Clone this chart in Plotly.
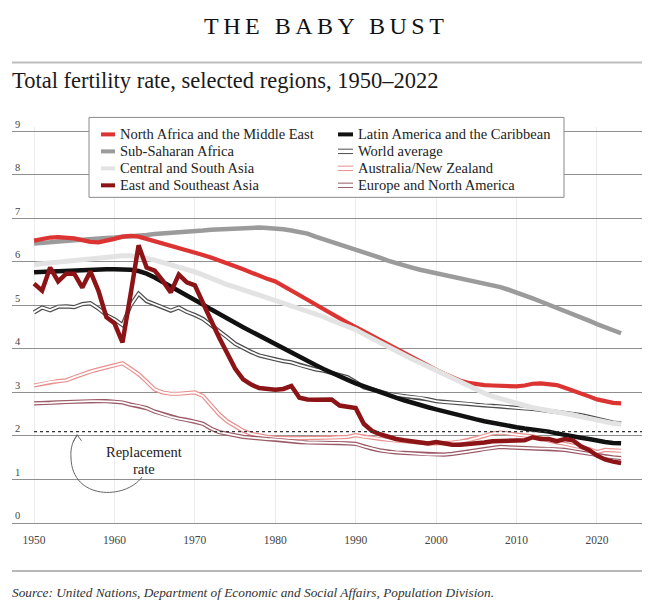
import plotly.graph_objects as go

# Total fertility rate by region (1950-2023)
years = list(range(1950, 2024))

north_africa_me = [
    6.49, 6.53, 6.56, 6.57, 6.56, 6.54, 6.50, 6.46, 6.45, 6.48,
    6.53, 6.58, 6.60, 6.58, 6.53, 6.48, 6.43, 6.38, 6.33, 6.27,
    6.22, 6.16, 6.10, 6.04, 5.97, 5.90, 5.83, 5.75, 5.67, 5.61,
    5.55, 5.45, 5.35, 5.24, 5.13, 5.02, 4.91, 4.80, 4.70, 4.60,
    4.50, 4.40, 4.30, 4.20, 4.10, 4.01, 3.91, 3.81, 3.71, 3.61,
    3.52, 3.43, 3.34, 3.27, 3.22, 3.19, 3.17, 3.16, 3.15, 3.15,
    3.14, 3.16, 3.20, 3.21, 3.20, 3.17, 3.11, 3.05, 2.98, 2.91,
    2.84, 2.79, 2.76, 2.75,
]
sub_saharan = [
    6.42, 6.44, 6.45, 6.47, 6.48, 6.50, 6.51, 6.53, 6.54, 6.55,
    6.56, 6.57, 6.58, 6.60, 6.62, 6.64, 6.65, 6.67, 6.68, 6.70,
    6.71, 6.72, 6.74, 6.75, 6.76, 6.77, 6.78, 6.79, 6.79, 6.78,
    6.77, 6.75, 6.72, 6.69, 6.65, 6.58, 6.52, 6.46, 6.41, 6.36,
    6.30, 6.24, 6.17, 6.10, 6.03, 5.97, 5.92, 5.87, 5.82, 5.78,
    5.74, 5.70, 5.67, 5.63, 5.59, 5.55, 5.51, 5.47, 5.42, 5.36,
    5.30, 5.23, 5.16, 5.09, 5.02, 4.95, 4.87, 4.80, 4.72, 4.65,
    4.57, 4.50, 4.43, 4.36,
]
central_south_asia = [
    5.94, 5.96, 5.98, 6.00, 6.02, 6.04, 6.06, 6.08, 6.10, 6.11,
    6.13, 6.14, 6.14, 6.12, 6.08, 6.04, 5.99, 5.94, 5.89, 5.83,
    5.77, 5.70, 5.62, 5.55, 5.48, 5.42, 5.36, 5.30, 5.24, 5.18,
    5.12, 5.06, 5.00, 4.94, 4.88, 4.82, 4.74, 4.66, 4.59, 4.52,
    4.44, 4.34, 4.24, 4.14, 4.04, 3.95, 3.86, 3.77, 3.68, 3.59,
    3.51, 3.42, 3.33, 3.24, 3.15, 3.06, 2.98, 2.91, 2.85, 2.80,
    2.75, 2.70, 2.65, 2.61, 2.58, 2.55, 2.52, 2.48, 2.45, 2.41,
    2.35, 2.31, 2.29, 2.27,
]
east_se_asia = [
    5.50, 5.34, 5.87, 5.55, 5.73, 5.73, 5.41, 5.78, 5.34, 4.73,
    4.59, 4.15, 5.25, 6.38, 5.87, 5.80, 5.57, 5.30, 5.71, 5.53,
    5.46, 5.04, 4.66, 4.27, 3.92, 3.55, 3.30, 3.18, 3.10, 3.08,
    3.06, 3.08, 3.15, 2.88, 2.84, 2.83, 2.84, 2.84, 2.70, 2.67,
    2.64, 2.28, 2.12, 2.04, 1.98, 1.93, 1.90, 1.87, 1.84, 1.83,
    1.86, 1.83, 1.80, 1.80, 1.81, 1.83, 1.85, 1.88, 1.89, 1.89,
    1.89, 1.90, 1.97, 1.93, 1.93, 1.88, 1.93, 1.90, 1.76, 1.68,
    1.55, 1.46, 1.41, 1.38,
]
latin_america = [
    5.76, 5.77, 5.78, 5.79, 5.80, 5.81, 5.82, 5.82, 5.83, 5.83,
    5.83, 5.83, 5.82, 5.79, 5.73, 5.64, 5.54, 5.43, 5.33, 5.23,
    5.13, 5.02, 4.91, 4.80, 4.70, 4.60, 4.50, 4.40, 4.31, 4.21,
    4.11, 4.01, 3.92, 3.83, 3.73, 3.63, 3.54, 3.45, 3.37, 3.29,
    3.21, 3.14, 3.07, 3.00, 2.94, 2.88, 2.82, 2.76, 2.71, 2.66,
    2.61, 2.56, 2.51, 2.46, 2.42, 2.38, 2.34, 2.30, 2.26, 2.23,
    2.20, 2.17, 2.15, 2.12, 2.10, 2.06, 2.02, 1.99, 1.96, 1.93,
    1.89, 1.86, 1.84, 1.83,
]
world_average = [
    4.84, 4.95, 4.89, 4.97, 4.98, 4.96, 5.03, 5.05, 4.93, 4.78,
    4.68, 4.55, 5.00, 5.27, 5.10, 5.03, 4.95, 4.88, 4.95, 4.85,
    4.78, 4.69, 4.55, 4.42, 4.27, 4.12, 4.02, 3.93, 3.85, 3.80,
    3.76, 3.72, 3.69, 3.63, 3.58, 3.53, 3.50, 3.45, 3.40, 3.35,
    3.24, 3.12, 3.07, 3.01, 2.97, 2.94, 2.92, 2.90, 2.88, 2.84,
    2.80, 2.78, 2.77, 2.75, 2.74, 2.72, 2.70, 2.69, 2.68, 2.66,
    2.64, 2.63, 2.62, 2.60, 2.58, 2.56, 2.54, 2.52, 2.48, 2.44,
    2.39, 2.34, 2.31, 2.29,
]
australia_nz = [
    3.16, 3.20, 3.24, 3.26, 3.28, 3.35, 3.42, 3.48, 3.53, 3.57,
    3.62, 3.67, 3.55, 3.42, 3.25, 3.07, 3.00, 2.97, 2.97, 2.98,
    3.00, 2.92, 2.70, 2.50, 2.34, 2.22, 2.12, 2.05, 2.01, 1.98,
    1.96, 1.95, 1.95, 1.95, 1.95, 1.96, 1.96, 1.96, 1.97, 1.98,
    2.02, 1.98, 1.96, 1.93, 1.91, 1.89, 1.87, 1.85, 1.84, 1.83,
    1.83, 1.83, 1.85, 1.87, 1.90, 1.95, 2.00, 2.06, 2.08, 2.05,
    2.03, 2.01, 1.99, 1.94, 1.89, 1.85, 1.82, 1.78, 1.74, 1.70,
    1.63, 1.68, 1.67, 1.66,
]
europe_na = [
    2.75, 2.75, 2.76, 2.77, 2.78, 2.79, 2.80, 2.80, 2.80, 2.80,
    2.79, 2.77, 2.72, 2.69, 2.64, 2.56, 2.50, 2.44, 2.40, 2.37,
    2.33, 2.28, 2.17, 2.09, 2.05, 2.01, 1.98, 1.96, 1.94, 1.93,
    1.92, 1.90, 1.88, 1.86, 1.85, 1.85, 1.84, 1.84, 1.84, 1.83,
    1.82, 1.76, 1.71, 1.67, 1.64, 1.62, 1.61, 1.60, 1.58, 1.57,
    1.57, 1.57, 1.59, 1.61, 1.64, 1.67, 1.70, 1.73, 1.75, 1.74,
    1.73, 1.72, 1.72, 1.71, 1.71, 1.70, 1.68, 1.65, 1.62, 1.59,
    1.55, 1.53, 1.51, 1.49,
]

replacement_rate = 2.1

FONT = "Liberation Serif"
W, H = 652, 609
# the page puts the figure 8px in from the top-left corner; positions below
# are measured on the reference and shifted back by this amount
OFF = 8
# plot area in reference pixels (y=9 sits at 131px, y=0 at 523px)
PLOT_L, PLOT_T, PW, PH = 12, 126.6, 630, 396.4
L, T = PLOT_L - OFF, PLOT_T - OFF
R, B = W - L - PW, H - T - PH
X_RANGE = [1947.26, 2025.6]
Y_RANGE = [0, 9.1]


def xp(px):
    return (px - PLOT_L) / PW


def yp(py):
    return (PLOT_T + PH - py) / PH


# name, values, color, width, double-line?
series = [
    ("World average", world_average, "#4d4d4d", 4.2, True),
    ("Australia/New Zealand", australia_nz, "#e8918f", 4.2, True),
    ("Europe and North America", europe_na, "#9a5a66", 4.2, True),
    ("Latin America and the Caribbean", latin_america, "#111111", 4.5, False),
    ("Sub-Saharan Africa", sub_saharan, "#9b9b9b", 4.5, False),
    ("North Africa and the Middle East", north_africa_me, "#dc3432", 4.2, False),
    ("Central and South Asia", central_south_asia, "#e3e3e3", 5, False),
    ("East and Southeast Asia", east_se_asia, "#8c1416", 4.5, False),
]

fig = go.Figure()
for name, vals, color, width, double in series:
    fig.add_trace(go.Scatter(x=years, y=vals, mode="lines", name=name,
                             line=dict(color=color, width=width),
                             showlegend=False))
    if double:
        fig.add_trace(go.Scatter(x=years, y=vals, mode="lines", name=name,
                                 line=dict(color="white", width=width - 2.4),
                                 showlegend=False, hoverinfo="skip"))

shapes = []
annotations = []

# replacement rate dotted line
shapes.append(dict(type="line", xref="x", yref="y", x0=years[0], x1=X_RANGE[1],
                   y0=replacement_rate, y1=replacement_rate,
                   line=dict(color="#333333", width=1.2, dash="dot"), layer="above"))

# curved arrow pointing to the replacement line
shapes.append(dict(type="path", xref="x", yref="y",
                   path="M 1963.43,1.056 C 1961.32,0.528 1954.73,0.528 1954.60,1.492 "
                        "C 1954.48,1.722 1954.85,1.905 1955.35,2.0",
                   line=dict(color="#666666", width=1)))
shapes.append(dict(type="path", xref="x", yref="y",
                   path="M 1954.85,1.86 L 1955.35,2.03 L 1955.9,1.89",
                   line=dict(color="#666666", width=1)))
for label, yv in (("Replacement", 1.64), ("rate", 1.25)):
    annotations.append(dict(x=1963.7, y=yv, xref="x", yref="y", text=label,
                            showarrow=False, font=dict(family=FONT, size=14.5, color="#222222")))

# rules
shapes.append(dict(type="line", xref="paper", yref="paper", x0=0, x1=1, y0=yp(62), y1=yp(62),
                   line=dict(color="#bdbdbd", width=2)))
shapes.append(dict(type="line", xref="paper", yref="paper", x0=0, x1=1, y0=yp(571), y1=yp(571),
                   line=dict(color="#a0a0a0", width=1.5)))

# legend box
shapes.append(dict(type="rect", xref="paper", yref="paper", x0=xp(89), x1=xp(564),
                   y0=yp(197), y1=yp(117), fillcolor="white",
                   line=dict(color="#8a8a8a", width=1), layer="above"))

legend_rows = [134, 151, 168, 185]
legend_cols = [(101, 115, 118), (338, 353, 356)]
legend_order = [
    "North Africa and the Middle East", "Latin America and the Caribbean",
    "Sub-Saharan Africa", "World average",
    "Central and South Asia", "Australia/New Zealand",
    "East and Southeast Asia", "Europe and North America",
]
style = {s[0]: s for s in series}
for i, name in enumerate(legend_order):
    row, col = divmod(i, 2)
    sx0, sx1, tx = legend_cols[col]
    py = legend_rows[row]
    _, _, color, width, double = style[name]
    if double:
        for off in (-2.2, 2.2):
            shapes.append(dict(type="line", xref="paper", yref="paper",
                               x0=xp(sx0), x1=xp(sx1), y0=yp(py + off), y1=yp(py + off),
                               line=dict(color=color, width=1), layer="above"))
    else:
        shapes.append(dict(type="line", xref="paper", yref="paper",
                           x0=xp(sx0), x1=xp(sx1), y0=yp(py), y1=yp(py),
                           line=dict(color=color, width=4), layer="above"))
    annotations.append(dict(x=xp(tx), y=yp(py), xref="paper", yref="paper", text=name,
                            xanchor="left", yanchor="middle", showarrow=False,
                            font=dict(family=FONT, size=14.5, color="#222222")))

# headings and source
annotations.append(dict(x=xp(326), y=yp(25), xref="paper", yref="paper",
                        text='<span style="letter-spacing:4.5px">THE BABY BUST</span>',
                        showarrow=False, xanchor="center", yanchor="middle",
                        font=dict(family=FONT, size=24, color="#111111")))
annotations.append(dict(x=xp(10), y=yp(80), xref="paper", yref="paper",
                        text="Total fertility rate, selected regions, 1950–2022",
                        showarrow=False, xanchor="left", yanchor="middle",
                        font=dict(family=FONT, size=22.5, color="#1a1a1a")))
annotations.append(dict(x=xp(10), y=yp(593), xref="paper", yref="paper",
                        text="<i>Source: United Nations, Department of Economic and Social Affairs, "
                             "Population Division.</i>",
                        showarrow=False, xanchor="left", yanchor="middle",
                        font=dict(family=FONT, size=13.3, color="#333333")))

fig.update_layout(
    width=W, height=H,
    margin=dict(l=L, r=R, t=T, b=B),
    paper_bgcolor="white", plot_bgcolor="white",
    showlegend=False,
    shapes=shapes,
    annotations=annotations,
    font=dict(family=FONT),
)
fig.update_xaxes(range=X_RANGE, tickmode="linear", tick0=1950, dtick=10,
                 showgrid=True, gridcolor="#ececec", gridwidth=1, zeroline=False,
                 showline=False, ticks="", ticklabelstandoff=8,
                 tickfont=dict(family=FONT, size=11.5, color="#444444"))
fig.update_yaxes(range=Y_RANGE, tickmode="linear", tick0=0, dtick=1,
                 showgrid=True, gridcolor="#8f8f8f", gridwidth=1.2, zeroline=True,
                 zerolinecolor="#8f8f8f", zerolinewidth=1.2, showline=False, ticks="",
                 ticklabelposition="inside top", ticklabeloverflow="allow",
                 tickfont=dict(family=FONT, size=10.5, color="#444444"))

fig.write_html("out.html")
